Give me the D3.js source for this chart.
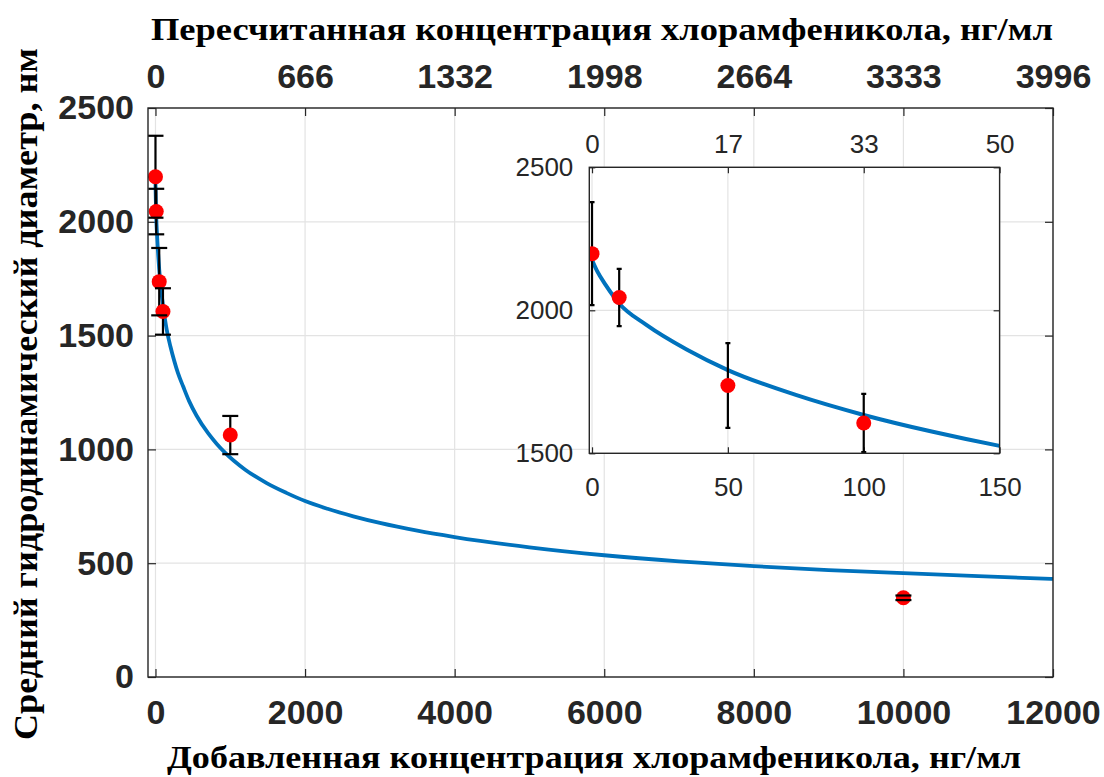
<!DOCTYPE html>
<html>
<head>
<meta charset="utf-8">
<script src="https://cdn.jsdelivr.net/npm/d3@7"></script>
<style>
  html, body { margin: 0; padding: 0; background: #fff; }
  svg { display: block; }
</style>
</head>
<body>
<svg id="chart" width="1104" height="777"></svg>
<script>
// ---------- data ----------
const concX   = [0, 10, 50, 100, 1000, 10000];          // added concentration, ng/ml
const diamY   = [2198, 2045, 1737, 1606, 1063, 348];    // mean hydrodynamic diameter, nm
const diamErr = [180, 100, 148, 102, 84, 10];

const fitX = [0, 2, 5, 10, 20, 35, 50, 75, 100, 125, 150, 200, 250, 300, 372, 450, 550, 706, 820, 929, 1200, 1487, 1750, 2000, 2300, 2645, 3000, 3500, 4000, 5000, 6000, 7000, 8000, 9000, 10000, 11000, 12000];
const fitY = [2176, 2135, 2089, 2024, 1949, 1862, 1791, 1704, 1634, 1576, 1526, 1452, 1390, 1336, 1275, 1212, 1148, 1070, 1024, 986, 911, 852, 809, 773, 739, 706, 677, 643, 615, 570, 535, 508, 487, 470, 456, 443, 431];

const mainXTicks = [0, 2000, 4000, 6000, 8000, 10000, 12000];
const mainTopLabels = ["0", "666", "1332", "1998", "2664", "3333", "3996"];
const mainYTicks = [0, 500, 1000, 1500, 2000, 2500];

const insetXTicks = [0, 50, 100, 150];
const insetTopLabels = ["0", "17", "33", "50"];
const insetYTicks = [1500, 2000, 2500];

const titleTop = "Пересчитанная концентрация хлорамфеникола, нг/мл";
const titleBottom = "Добавленная концентрация хлорамфеникола, нг/мл";
const titleY = "Средний гидродинамический диаметр, нм";

// ---------- layout ----------
const svg = d3.select("#chart");
const M = {l: 148, r: 1053, t: 108, b: 677};
const I = {l: 589.3, r: 999.6, t: 167.3, b: 453.3};
const axisColor = "#262626", gridColor = "#e3e3e3", lineColor = "#0072BD";

const x = d3.scaleLinear().domain([-100, 12000]).range([M.l, M.r]);
const y = d3.scaleLinear().domain([0, 2500]).range([M.b, M.t]);
const xi = d3.scaleLinear().domain([-1, 150]).range([I.l, I.r]);
const yi = d3.scaleLinear().domain([1500, 2500]).range([I.b, I.t]);

const defs = svg.append("defs");
defs.append("clipPath").attr("id", "clipMain").append("rect")
  .attr("x", M.l).attr("y", M.t).attr("width", M.r - M.l).attr("height", M.b - M.t);
defs.append("clipPath").attr("id", "clipInset").append("rect")
  .attr("x", I.l).attr("y", I.t).attr("width", I.r - I.l).attr("height", I.b - I.t);

const fitData = fitX.map((v, i) => ({x: v, y: fitY[i]}));
const pts = concX.map((v, i) => ({x: v, y: diamY[i], e: diamErr[i]}));

function styleAxis(g, font, size, weight) {
  g.select(".domain").remove();
  g.selectAll(".tick line").attr("stroke", axisColor).attr("stroke-width", 1.2);
  g.selectAll(".tick text")
    .attr("fill", axisColor)
    .style("font-family", font)
    .style("font-size", size + "px")
    .style("font-weight", weight);
}

function drawPanel(opts) {
  const {xs, ys, xTicks, topLabels, yTicks, box, clip, fontSize, fontWeight,
         tick, padL, padB, padT, capW, barW, r, lineW, data} = opts;
  const g = svg.append("g");
  // background
  g.append("rect").attr("x", box.l).attr("y", box.t)
    .attr("width", box.r - box.l).attr("height", box.b - box.t).attr("fill", "#fff");
  // grid
  g.append("g").selectAll("line").data(xTicks).join("line")
    .attr("x1", d => xs(d)).attr("x2", d => xs(d)).attr("y1", box.t).attr("y2", box.b)
    .attr("stroke", gridColor).attr("stroke-width", 1.2);
  g.append("g").selectAll("line").data(yTicks).join("line")
    .attr("y1", d => ys(d)).attr("y2", d => ys(d)).attr("x1", box.l).attr("x2", box.r)
    .attr("stroke", gridColor).attr("stroke-width", 1.2);

  const font = "'Liberation Sans', Arial, sans-serif";
  // axes
  const gb = g.append("g").attr("transform", `translate(0,${box.b})`)
    .call(d3.axisBottom(xs).tickValues(xTicks).tickFormat(d3.format("d")).tickSize(-tick).tickPadding(padB));
  styleAxis(gb, font, fontSize, fontWeight);
  gb.selectAll(".tick text").attr("dy", "0.71em");
  const gt = g.append("g").attr("transform", `translate(0,${box.t})`)
    .call(d3.axisTop(xs).tickValues(xTicks).tickFormat((d, i) => topLabels[i]).tickSize(-tick).tickPadding(padT));
  styleAxis(gt, font, fontSize, fontWeight);
  const gl = g.append("g").attr("transform", `translate(${box.l},0)`)
    .call(d3.axisLeft(ys).tickValues(yTicks).tickFormat(d3.format("d")).tickSize(-tick).tickPadding(padL));
  styleAxis(gl, font, fontSize, fontWeight);
  const gr = g.append("g").attr("transform", `translate(${box.r},0)`)
    .call(d3.axisRight(ys).tickValues(yTicks).tickFormat("").tickSize(-tick));
  styleAxis(gr, font, fontSize, fontWeight);

  // plotted content
  const c = g.append("g").attr("clip-path", `url(#${clip})`);
  c.append("path").datum(fitData)
    .attr("fill", "none").attr("stroke", lineColor).attr("stroke-width", lineW)
    .attr("stroke-linejoin", "round")
    .attr("d", d3.line().x(d => xs(d.x)).y(d => ys(d.y)).curve(d3.curveMonotoneX));
  c.append("g").selectAll("line").data(data).join("line")
    .attr("x1", d => xs(d.x)).attr("x2", d => xs(d.x))
    .attr("y1", d => ys(d.y - d.e)).attr("y2", d => ys(d.y + d.e))
    .attr("stroke", "#000").attr("stroke-width", barW);
  c.append("g").selectAll("circle").data(data).join("circle")
    .attr("cx", d => xs(d.x)).attr("cy", d => ys(d.y)).attr("r", r)
    .attr("fill", "#ff0000");
  const caps = c.append("g");
  data.forEach(d => {
    [d.y - d.e, d.y + d.e].forEach(v => {
      caps.append("line")
        .attr("x1", xs(d.x) - capW / 2).attr("x2", xs(d.x) + capW / 2)
        .attr("y1", ys(v)).attr("y2", ys(v))
        .attr("stroke", "#000").attr("stroke-width", barW);
    });
  });

  // box
  g.append("rect").attr("x", box.l).attr("y", box.t)
    .attr("width", box.r - box.l).attr("height", box.b - box.t)
    .attr("fill", "none").attr("stroke", axisColor).attr("stroke-width", 1.4);
}

drawPanel({xs: x, ys: y, xTicks: mainXTicks, topLabels: mainTopLabels, yTicks: mainYTicks,
  box: M, clip: "clipMain", fontSize: 34, fontWeight: "bold", tick: 8,
  padL: 14, padB: 23, padT: 20, capW: 16, barW: 2.2, r: 7.5, lineW: 3.8, data: pts});

drawPanel({xs: xi, ys: yi, xTicks: insetXTicks, topLabels: insetTopLabels, yTicks: insetYTicks,
  box: I, clip: "clipInset", fontSize: 26, fontWeight: "normal", tick: 6,
  padL: 16, padB: 24, padT: 14, capW: 5, barW: 2.2, r: 7.5, lineW: 4, data: pts.filter(d => d.x <= 150)});

// ---------- titles ----------
const serif = "'Liberation Serif', 'Times New Roman', serif";
svg.append("text").text(titleTop)
  .attr("x", 151).attr("y", 40).attr("textLength", 902).attr("lengthAdjust", "spacingAndGlyphs")
  .style("font-family", serif).style("font-size", "32px").style("font-weight", "bold").attr("fill", "#000");
svg.append("text").text(titleBottom)
  .attr("x", 167).attr("y", 768).attr("textLength", 854).attr("lengthAdjust", "spacingAndGlyphs")
  .style("font-family", serif).style("font-size", "32px").style("font-weight", "bold").attr("fill", "#000");
svg.append("text").text(titleY)
  .attr("transform", "translate(37,740) rotate(-90)")
  .attr("x", 0).attr("y", 0).attr("textLength", 692).attr("lengthAdjust", "spacingAndGlyphs")
  .style("font-family", serif).style("font-size", "34px").style("font-weight", "bold").attr("fill", "#000");
</script>
</body>
</html>
